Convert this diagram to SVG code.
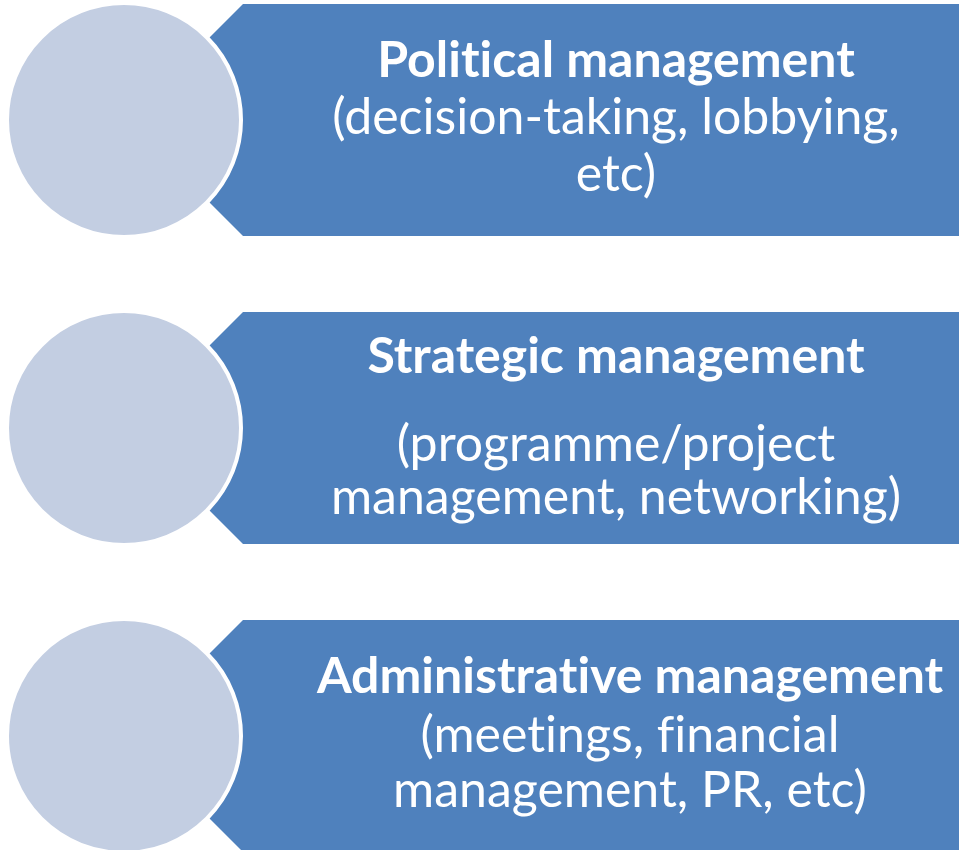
<svg xmlns="http://www.w3.org/2000/svg" width="959" height="850" viewBox="0 0 959 850">
<style>
.arrow{fill:#4F81BD}
.circ{fill:#C3CEE2;stroke:#FFFFFF;stroke-width:4}
.t{font-family:Lato,"Open Sans","Liberation Sans",sans-serif;fill:#FFFFFF;text-anchor:middle;font-size:50px;font-variant-ligatures:none}
.b{font-weight:bold}
</style>
<rect width="959" height="850" fill="#FFFFFF"/>
<g id="row1">
<path class="arrow" d="M243,4 H959 V236 H243 L127,120 Z"/>
<circle class="circ" cx="124" cy="120" r="117"/>
<text class="t b" x="616" y="77">Political management</text>
<text class="t" x="616" y="134">(decision-taking, lobbying,</text>
<text class="t" x="616" y="191">etc)</text>
</g>
<g id="row2">
<path class="arrow" d="M243,312 H959 V544 H243 L127,428 Z"/>
<circle class="circ" cx="124" cy="428" r="117"/>
<text class="t b" x="616" y="373">Strategic management</text>
<text class="t" x="616" y="461">(programme/project</text>
<text class="t" x="616" y="514">management, networking)</text>
</g>
<g id="row3">
<path class="arrow" d="M243,620 H959 V852 H243 L127,736 Z"/>
<circle class="circ" cx="124" cy="736" r="117"/>
<text class="t b" x="630" y="693">Administrative management</text>
<text class="t" x="630" y="752">(meetings, financial</text>
<text class="t" x="630" y="807">management, PR, etc)</text>
</g>
<g id="connectors"/>
</svg>
